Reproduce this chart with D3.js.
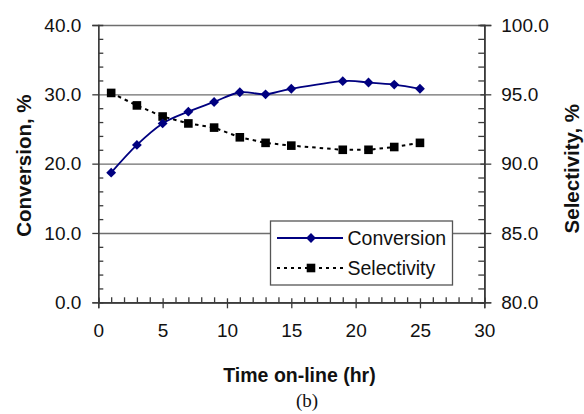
<!DOCTYPE html>
<html>
<head>
<meta charset="utf-8">
<script src="https://cdn.jsdelivr.net/npm/d3@7"></script>
<style>
  html, body { margin: 0; padding: 0; background: #fff; }
  svg { display: block; font-family: Arial, "Liberation Sans", sans-serif; }
</style>
</head>
<body>
<svg id="chart" width="584" height="414"></svg>
<script>
// Time on-line (hr)
const hours = [1, 3, 5, 7, 9, 11, 13, 15, 19, 21, 23, 25];
// Conversion, % (left axis)
const conversion = [18.7, 22.7, 25.8, 27.5, 28.9, 30.3, 30.0, 30.8, 31.9, 31.7, 31.4, 30.8];
// Selectivity, % (right axis)
const selectivity = [95.1, 94.2, 93.4, 92.9, 92.6, 91.9, 91.5, 91.3, 91.0, 91.0, 91.2, 91.5];

const xTicks = [0, 5, 10, 15, 20, 25, 30];
const leftTicks = [0, 10, 20, 30, 40];
const rightTicks = [80, 85, 90, 95, 100];
const seriesNames = ["Conversion", "Selectivity"];

const svg = d3.select("#chart");
const L = 98.3, R = 484.3, T = 25, B = 302.3;

const x = d3.scaleLinear().domain([0, 30]).range([L, R]);
const yL = d3.scaleLinear().domain([0, 40]).range([B, T]);
const yR = d3.scaleLinear().domain([80, 100]).range([B, T]);

const fmt = d3.format(".1f");
const gridColor = "#6e6e6e";
const axisColor = "#3a3a3a";

// horizontal gridlines
svg.append("g")
  .attr("transform", `translate(${L},0)`)
  .call(d3.axisLeft(yL).tickValues([10, 20, 30, 40]).tickSize(-(R - L)).tickFormat(""))
  .call(g => g.select(".domain").remove())
  .call(g => g.selectAll("line").attr("stroke", gridColor).attr("stroke-width", 1.3));

function styleAxis(g) {
  g.select(".domain").attr("stroke", axisColor).attr("stroke-width", 1.3);
  g.selectAll(".tick line").attr("stroke", axisColor).attr("stroke-width", 1.3);
  g.selectAll("text").attr("font-size", 19).attr("fill", "#111")
    .attr("font-family", "Arial, 'Liberation Sans', sans-serif");
}

// left axis: minor ticks inside, major ticks outside with labels
svg.append("g").attr("transform", `translate(${L},0)`)
  .call(d3.axisLeft(yL).tickValues(d3.range(2, 40, 2).filter(v => v % 10 !== 0)).tickSize(-5).tickFormat(""))
  .call(styleAxis);
svg.append("g").attr("transform", `translate(${L},0)`)
  .call(d3.axisLeft(yL).tickValues(leftTicks).tickSize(6).tickPadding(11).tickFormat(fmt))
  .call(styleAxis);

// right axis
svg.append("g").attr("transform", `translate(${R},0)`)
  .call(d3.axisRight(yR).tickValues(d3.range(81, 100, 1).filter(v => v % 5 !== 0)).tickSize(-6).tickFormat(""))
  .call(styleAxis);
svg.append("g").attr("transform", `translate(${R},0)`)
  .call(d3.axisRight(yR).tickValues(rightTicks).tickSize(-4).tickFormat(""))
  .call(styleAxis);
svg.append("g").attr("transform", `translate(${R},0)`)
  .call(d3.axisRight(yR).tickValues(rightTicks).tickSize(7).tickPadding(10).tickFormat(fmt))
  .call(styleAxis);

// bottom axis
svg.append("g").attr("transform", `translate(0,${B})`)
  .call(d3.axisBottom(x).tickValues(d3.range(1, 30, 1).filter(v => v % 5 !== 0)).tickSize(-5).tickFormat(""))
  .call(styleAxis);
svg.append("g").attr("transform", `translate(0,${B})`)
  .call(d3.axisBottom(x).tickValues(xTicks).tickSize(-4).tickFormat(""))
  .call(styleAxis);
svg.append("g").attr("transform", `translate(0,${B})`)
  .call(d3.axisBottom(x).tickValues(xTicks).tickSize(6).tickPadding(15.5).tickFormat(d3.format("d")))
  .call(styleAxis);

// series
const convColor = "#000080";
const convData = hours.map((h, i) => [h, conversion[i]]);
const selData = hours.map((h, i) => [h, selectivity[i]]);

const diamond = d3.symbol().type(d3.symbolDiamond2).size(62);
const square = d3.symbol().type(d3.symbolSquare).size(74);

svg.append("path")
  .datum(selData)
  .attr("fill", "none").attr("stroke", "#000").attr("stroke-width", 2)
  .attr("stroke-dasharray", "3.5,4")
  .attr("d", d3.line().x(d => x(d[0])).y(d => yR(d[1])));

svg.append("path")
  .datum(convData)
  .attr("fill", "none").attr("stroke", convColor).attr("stroke-width", 1.8)
  .attr("d", d3.line().curve(d3.curveCatmullRom.alpha(0)).x(d => x(d[0])).y(d => yL(d[1])));

svg.append("g").selectAll("path").data(selData).join("path")
  .attr("transform", d => `translate(${x(d[0])},${yR(d[1])})`)
  .attr("d", square).attr("fill", "#000");

svg.append("g").selectAll("path").data(convData).join("path")
  .attr("transform", d => `translate(${x(d[0])},${yL(d[1])})`)
  .attr("d", diamond).attr("fill", convColor);

// legend
const lg = svg.append("g");
lg.append("rect").attr("x", 270.5).attr("y", 221).attr("width", 182).attr("height", 64)
  .attr("fill", "#fff").attr("stroke", "#555").attr("stroke-width", 1.3);
const rows = [
  { name: seriesNames[0], y: 238, color: convColor, dash: null, sym: diamond, w: 1.8 },
  { name: seriesNames[1], y: 268, color: "#000", dash: "3,4", sym: square, w: 2 }
];
rows.forEach(r => {
  lg.append("line").attr("x1", 277).attr("x2", 343).attr("y1", r.y).attr("y2", r.y)
    .attr("stroke", r.color).attr("stroke-width", r.w).attr("stroke-dasharray", r.dash);
  lg.append("path").attr("transform", `translate(311,${r.y})`).attr("d", r.sym).attr("fill", r.color);
  lg.append("text").attr("x", 347.5).attr("y", r.y + 6.5).attr("font-size", 19.5).attr("fill", "#111")
    .text(r.name);
});

// axis titles
svg.append("text")
  .attr("transform", `translate(31,${(T + B) / 2 + 2}) rotate(-90)`)
  .attr("text-anchor", "middle").attr("font-weight", "bold").attr("font-size", 20.5).attr("fill", "#111")
  .text("Conversion, %");
svg.append("text")
  .attr("transform", `translate(579,${(T + B) / 2 + 5}) rotate(-90)`)
  .attr("text-anchor", "middle").attr("font-weight", "bold").attr("font-size", 20.5).attr("fill", "#111")
  .text("Selectivity, %");
svg.append("text")
  .attr("x", 299.5).attr("y", 382)
  .attr("text-anchor", "middle").attr("font-weight", "bold").attr("font-size", 19.5).attr("fill", "#111")
  .text("Time on-line (hr)");
svg.append("text")
  .attr("x", 307).attr("y", 407)
  .attr("text-anchor", "middle").attr("font-family", "'Liberation Serif', 'Times New Roman', serif")
  .attr("font-size", 19).attr("fill", "#111")
  .text("(b)");
</script>
</body>
</html>
